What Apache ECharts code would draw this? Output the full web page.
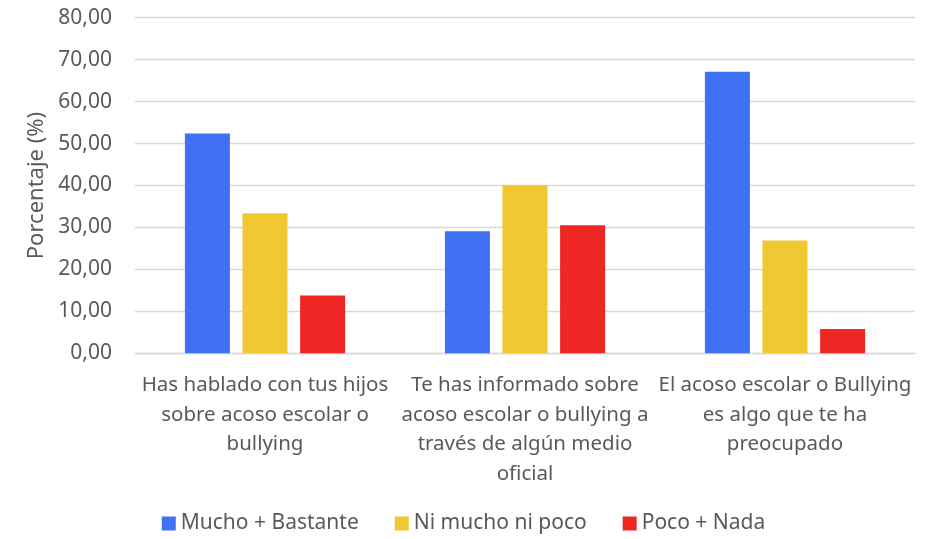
<!DOCTYPE html>
<html>
<head>
<meta charset="utf-8">
<script src="https://cdn.jsdelivr.net/npm/echarts@6/dist/echarts.min.js"></script>
<style>html,body{margin:0;padding:0;background:#fff}#c{width:927px;height:539px}</style>
</head>
<body>
<div id="c"></div>
<script>
const categories = [
  "Has hablado con tus hijos\nsobre acoso escolar o\nbullying",
  "Te has informado sobre\nacoso escolar o bullying a\ntravés de algún medio\noficial",
  "El acoso escolar o Bullying\nes algo que te ha\npreocupado"
];
const seriesNames = ["Mucho + Bastante", "Ni mucho ni poco", "Poco + Nada"];
const muchoBastante = [52.4, 29.1, 67.1];
const niMuchoNiPoco = [33.4, 40.1, 26.9];
const pocoNada = [13.8, 30.5, 5.8];
const colors = ["#4070F4", "#F0C832", "#EE2624"];

const FONT = "Noto Sans";
const TXT = "#595959";
const chart = echarts.init(document.getElementById('c'), null, {renderer: 'canvas'});
const mk = (name, data, color) => ({
  name, type: 'bar', data, barWidth: 45, barGap: '28%',
  itemStyle: {color}
});
chart.setOption({
  animation: false,
  textStyle: {fontFamily: FONT, color: TXT},
  grid: {left: 135, right: 12, top: 17.7, bottom: 185.7, containLabel: false},
  legend: {
    bottom: 0, left: 'center', itemWidth: 14, itemHeight: 14, itemGap: 36,
    icon: 'rect',
    textStyle: {fontFamily: FONT, fontSize: 21, color: TXT},
    data: seriesNames
  },
  xAxis: {
    type: 'category', data: categories,
    axisTick: {show: false},
    axisLine: {lineStyle: {color: '#D9D9D9', width: 1.3}},
    axisLabel: {fontFamily: FONT, fontSize: 20.5, color: TXT, lineHeight: 29.5, margin: 17.5, interval: 0}
  },
  yAxis: {
    type: 'value', min: 0, max: 80, interval: 10,
    name: 'Porcentaje (%)', nameLocation: 'middle', nameGap: 86,
    nameTextStyle: {fontFamily: FONT, fontSize: 22, color: TXT},
    axisLine: {show: false}, axisTick: {show: false},
    axisLabel: {fontFamily: FONT, fontSize: 21, color: TXT, margin: 23,
      formatter: v => v.toFixed(2).replace('.', ',')},
    splitLine: {lineStyle: {color: '#D9D9D9', width: 1.3}}
  },
  series: [
    mk(seriesNames[0], muchoBastante, colors[0]),
    mk(seriesNames[1], niMuchoNiPoco, colors[1]),
    mk(seriesNames[2], pocoNada, colors[2])
  ]
});
</script>
</body>
</html>
